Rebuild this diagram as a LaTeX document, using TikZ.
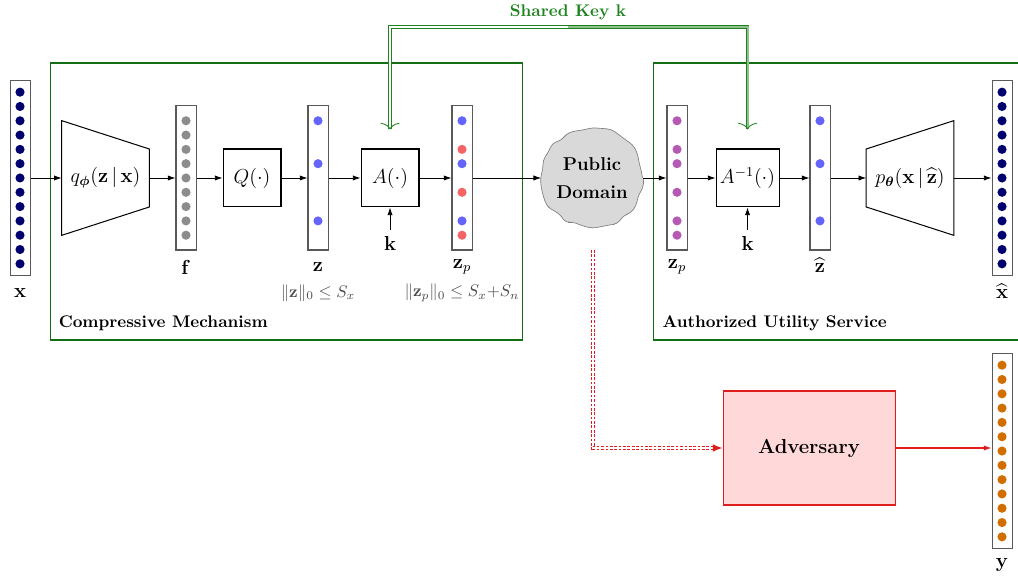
\documentclass[tikz,border=0pt]{standalone}
\usepackage{tikz}
\usetikzlibrary{shapes, shapes.symbols, arrows.meta, positioning, calc, decorations.pathmorphing}
\usepackage{amsmath, amssymb, bm}

\definecolor{boxgreen}{RGB}{20, 110, 20}
\definecolor{keygreen}{RGB}{30, 130, 30}
\definecolor{dotnavy}{RGB}{0, 0, 110}
\definecolor{dotgray}{RGB}{140, 140, 140}
\definecolor{dotblue}{RGB}{100, 100, 250}
\definecolor{dotred}{RGB}{245, 100, 100}
\definecolor{dotpurple}{RGB}{180, 90, 180}
\definecolor{dotorange}{RGB}{210, 110, 0}
\definecolor{advred}{RGB}{225, 30, 30}

\begin{document}
\begin{tikzpicture}[
  vec/.style={draw=gray!70!black, fill=white, line width=0.6pt, minimum width=0.417cm, inner sep=0pt},
  longvec/.style={vec, minimum height=4.06cm},
  shortvec/.style={vec, minimum height=3cm},
  op/.style={draw, line width=0.6pt, minimum height=1.208cm, minimum width=1.208cm, inner sep=0pt, font=\large},
  trap/.style={minimum width=1.81cm, minimum height=2.375cm, inner sep=0pt, font=\large},
  dot/.style={circle, fill=#1, inner sep=0pt, minimum size=0.19cm},
  lbl/.style={font=\large},
  group/.style={draw=boxgreen, line width=0.6pt},
  flow/.style={-{Latex[length=1.6mm, width=1.1mm]}, line width=0.5pt},
  keyline/.style={draw=keygreen, double=#1, double distance=1.2pt, line width=0.5pt,
                  -{To[length=1.4mm, width=4mm]}},
]
\useasboundingbox (0,0) rectangle (21.208,-12.042);
\pgfmathsetseed{3}

% groups
\draw[group] (1.042,-1.3125) rectangle (10.875,-7.083);
\node[font=\bfseries, anchor=west] (cmlbl) at (1.1,-6.729) {Compressive Mechanism};
\draw[group] (13.604,-1.3125) rectangle (21.5,-7.083);
\node[font=\bfseries, anchor=west] (uslbl) at (13.68,-6.729) {Authorized Utility Service};

% encoder side
\node[longvec] (xin) at (0.417,-3.708) {};
\node[trap] (enc) at (2.198,-3.708) {$q_{\bm{\phi}}(\mathbf{z}\,|\,\mathbf{x})$};
\draw[line width=0.6pt] (enc.north west) -- ($(enc.east)+(0,0.604)$) -- ($(enc.east)+(0,-0.604)$) -- (enc.south west) -- cycle;
\node[shortvec] (f) at (3.875,-3.708) {};
\node[op] (Q) at (5.25,-3.708) {$Q(\cdot)$};
\node[shortvec] (z) at (6.625,-3.708) {};
\node[op] (A) at (8.125,-3.708) {$A(\cdot)$};
\node[shortvec] (zp) at (9.625,-3.708) {};

% public domain
\node[ellipse, draw=gray, fill=gray!30, minimum width=2.0cm, minimum height=2.05cm,
      decorate, decoration={random steps, segment length=5pt, amplitude=1.4pt}, rounded corners=2.5pt,
      inner sep=0pt, align=center, font=\fontsize{11pt}{17pt}\selectfont\bfseries] (pub) at (12.333,-3.708) {Public\\Domain};

% decoder side
\node[shortvec] (zp2) at (14.104,-3.708) {};
\node[op, minimum width=1.3125cm] (Ainv) at (15.573,-3.708) {$A^{-1}(\cdot)$};
\node[shortvec] (zhat) at (17.083,-3.708) {};
\node[trap] (dec) at (18.958,-3.708) {$p_{\bm{\theta}}(\mathbf{x}\,|\,\widehat{\mathbf{z}})$};
\draw[line width=0.6pt] (dec.north east) -- ($(dec.west)+(0,0.604)$) -- ($(dec.west)+(0,-0.604)$) -- (dec.south east) -- cycle;
\node[longvec] (xout) at (20.875,-3.708) {};

% adversary
\node[draw=advred, fill=red!15, line width=0.6pt, minimum width=3.583cm, minimum height=2.375cm,
      font=\large\bfseries] (adv) at (16.854,-9.333) {Adversary};
\node[longvec] (yout) at (20.875,-9.396) {};

% dots
\foreach \n/\c in {xin/dotnavy, xout/dotnavy, yout/dotorange}
  \foreach \i in {-6,...,6}
    \node[dot=\c] at ($(\n.center)+(0,\i*0.298)$) {};
\foreach \i in {-4,...,4}
  \node[dot=dotgray] at ($(f.center)+(0,\i*0.298)$) {};
\foreach \n in {z, zp, zhat}
  \foreach \i in {4,1,-3}
    \node[dot=dotblue] at ($(\n.center)+(0,\i*0.298)$) {};
\foreach \i in {2,-1,-4}
  \node[dot=dotred] at ($(zp.center)+(0,\i*0.298)$) {};
\foreach \i in {4,2,1,-1,-3,-4}
  \node[dot=dotpurple] at ($(zp2.center)+(0,\i*0.298)$) {};

% labels
\node[lbl] (xlbl) at (0.417,-6.104) {$\mathbf{x}$};
\node[lbl] (flbl) at (3.875,-5.5625) {$\mathbf{f}$};
\node[lbl] (zlbl) at (6.625,-5.5625) {$\mathbf{z}$};
\node[lbl] (zplbl) at (9.625,-5.5625) {$\mathbf{z}_p$};
\node[lbl] (zp2lbl) at (14.104,-5.5625) {$\mathbf{z}_p$};
\node[lbl] (zhatlbl) at (17.083,-5.53) {$\widehat{\mathbf{z}}$};
\node[lbl] (xhatlbl) at (20.875,-6.07) {$\widehat{\mathbf{x}}$};
\node[lbl] (ylbl) at (20.875,-11.77) {$\mathbf{y}$};
\node[gray!60!black] (zn) at (6.625,-6.104) {$\|\mathbf{z}\|_0 \le S_x$};
\node[gray!60!black] (zpn) at (9.625,-6.104) {$\|\mathbf{z}_p\|_0 \le S_x{+}S_n$};
\node[lbl] (k1) at (8.125,-5.0625) {$\mathbf{k}$};
\node[lbl] (k2) at (15.573,-5.0625) {$\mathbf{k}$};

% main flow
\draw[flow] (xin.east) -- (enc.west);
\draw[flow] (enc.east) -- (f.west);
\draw[flow] (f.east) -- (Q.west);
\draw[flow] (Q.east) -- (z.west);
\draw[flow] (z.east) -- (A.west);
\draw[flow] (A.east) -- (zp.west);
\draw[flow] (zp.east) -- (pub.west);
\draw[flow] (pub.east) -- (zp2.west);
\draw[flow] (zp2.east) -- (Ainv.west);
\draw[flow] (Ainv.east) -- (zhat.west);
\draw[flow] (zhat.east) -- (dec.west);
\draw[flow] (dec.east) -- (xout.west);
\draw[flow] (k1.north) -- (A.south);
\draw[flow] (k2.north) -- (Ainv.south);

% shared key
\coordinate (keymid) at (11.833,-0.5625);
\coordinate (Atip) at ($(A.north)+(0,0.396)$);
\coordinate (Ainvtip) at ($(Ainv.north)+(0,0.396)$);
\draw[keyline=white] (keymid) -| (Atip);
\draw[keyline=keygreen!50] (keymid) -| (Ainvtip);
\node[font=\bfseries, text=keygreen] (keylbl) at (11.833,-0.25) {Shared Key $\mathbf{k}$};

% adversary access
\coordinate (leak) at (12.354,-5.208);
\draw[draw=advred, double=white, double distance=0.8pt, line width=0.8pt, dash pattern=on 1.6pt off 1pt,
      -{Latex[length=2mm, width=1.6mm]}] (leak) |- (adv.west);
\draw[flow, advred, line width=0.6pt] (adv.east) -- (adv.east -| yout.west);
\end{tikzpicture}
\end{document}
